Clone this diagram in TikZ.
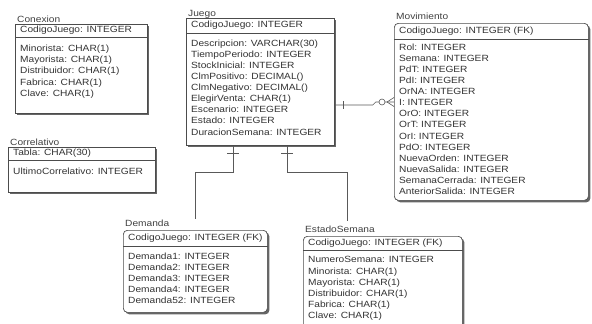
\documentclass[tikz,border=0pt]{standalone}
\usepackage{fontspec}
\setmainfont{Liberation Sans}[FakeStretch=1.13]
\usetikzlibrary{shadows}

\begin{document}
\begin{tikzpicture}[x=1pt, y=1pt,
    tabla/.style={draw=black!70, line width=0.7pt, fill=white, anchor=north west, inner sep=0pt,
      drop shadow={shadow xshift=2pt, shadow yshift=-2pt, fill=black!60, opacity=1}},
    debil/.style={tabla, rounded corners=4pt},
    titulo/.style={anchor=base west, inner sep=0pt, font=\fontsize{9}{11}\selectfont, text=black!75},
    clave/.style={anchor=west, inner sep=0pt, font=\fontsize{9}{11}\selectfont, text=black!80},
    campos/.style={anchor=north west, inner sep=0pt, align=left, font=\fontsize{9}{11.1}\selectfont, text=black!80},
    rel/.style={draw=black!65, line width=0.6pt}]
      % frame
      \useasboundingbox (0,0) rectangle (592,-324);
      \clip (0,0) rectangle (592,-324);
      % tables
      \node[tabla, minimum width=132pt, minimum height=89pt] (conexion) at (15,-24) {};
      \node[tabla, minimum width=147pt, minimum height=45pt] (correlativo) at (8,-147) {};
      \node[tabla, minimum width=148pt, minimum height=127pt] (juego) at (186,-18) {};
      \node[debil, minimum width=194pt, minimum height=177pt] (movimiento) at (394,-23) {};
      \node[debil, minimum width=144pt, minimum height=82pt] (demanda) at (123,-230) {};
      \node[debil, minimum width=159pt, minimum height=100pt] (estado) at (303,-236) {};
      % titles
      \foreach \t/\n/\d in {conexion/Conexion/1.5, correlativo/Correlativo/1.5, juego/Juego/1.5,
                         movimiento/Movimiento/3.5, demanda/Demanda/3.5, estado/EstadoSemana/3.5}
        \node[titulo] (\t-t) at ([shift={(2,\d)}]\t.north west) {\n};
      % key lines
      \foreach \t/\h in {conexion/13, correlativo/13, juego/15, movimiento/16, demanda/16, estado/14}
        \draw[draw=black!70, line width=0.6pt] ([yshift=-\h pt]\t.north west) -- ([yshift=-\h pt]\t.north east);
      % keys
      \node[clave] (conexion-pk) at ([shift={(5,-6.5)}]conexion.north west) {CodigoJuego: INTEGER};
      \node[clave] (correlativo-pk) at ([shift={(5,-6.5)}]correlativo.north west) {Tabla: CHAR(30)};
      \node[clave] (juego-pk) at ([shift={(5,-7.5)}]juego.north west) {CodigoJuego: INTEGER};
      \node[clave] (movimiento-pk) at ([shift={(5,-8)}]movimiento.north west) {CodigoJuego: INTEGER (FK)};
      \node[clave] (demanda-pk) at ([shift={(5,-8)}]demanda.north west) {CodigoJuego: INTEGER (FK)};
      \node[clave] (estado-pk) at ([shift={(5,-7)}]estado.north west) {CodigoJuego: INTEGER (FK)};
      % attributes
      \node[campos] (conexion-at) at ([shift={(5,-21)}]conexion.north west)
        {Minorista: CHAR(1)\\Mayorista: CHAR(1)\\Distribuidor: CHAR(1)\\Fabrica: CHAR(1)\\Clave: CHAR(1)};
      \node[campos] (correlativo-at) at ([shift={(5,-21)}]correlativo.north west) {UltimoCorrelativo: INTEGER};
      \node[campos] (juego-at) at ([shift={(5,-21.5)}]juego.north west)
        {Descripcion: VARCHAR(30)\\TiempoPeriodo: INTEGER\\StockInicial: INTEGER\\ClmPositivo: DECIMAL()\\
         ClmNegativo: DECIMAL()\\ElegirVenta: CHAR(1)\\Escenario: INTEGER\\Estado: INTEGER\\DuracionSemana: INTEGER};
      \node[campos] (movimiento-at) at ([shift={(5,-20.5)}]movimiento.north west)
        {Rol: INTEGER\\Semana: INTEGER\\PdT: INTEGER\\PdI: INTEGER\\OrNA: INTEGER\\I: INTEGER\\OrO: INTEGER\\
         OrT: INTEGER\\OrI: INTEGER\\PdO: INTEGER\\NuevaOrden: INTEGER\\NuevaSalida: INTEGER\\
         SemanaCerrada: INTEGER\\AnteriorSalida: INTEGER};
      \node[campos] (demanda-at) at ([shift={(5,-22.5)}]demanda.north west)
        {Demanda1: INTEGER\\Demanda2: INTEGER\\Demanda3: INTEGER\\Demanda4: INTEGER\\Demanda52: INTEGER};
      \node[campos] (estado-at) at ([shift={(5,-20.5)}]estado.north west)
        {NumeroSemana: INTEGER\\Minorista: CHAR(1)\\Mayorista: CHAR(1)\\Distribuidor: CHAR(1)\\
         Fabrica: CHAR(1)\\Clave: CHAR(1)};
      % Juego - Movimiento
      \draw[rel] ([yshift=-87pt]juego.north east) -- ++(38,0) -- ++(3,3) -- ([yshift=-79pt]movimiento.north west);
      \draw[rel] ([shift={(9,-83)}]juego.north east) -- ++(0,-8);
      \draw[rel, fill=white] ([shift={(-12,-79)}]movimiento.north west) circle[radius=3pt];
      \draw[rel] ([shift={(-7,-79)}]movimiento.north west) -- ++(7,4.5)
                 ([shift={(-7,-79)}]movimiento.north west) -- ++(7,-4.5);
      % Juego - Demanda, Juego - EstadoSemana
      \coordinate (finDemanda) at ([shift={(72,11)}]demanda.north west);
      \coordinate (finEstado) at ([shift={(44,15)}]estado.north west);
      \draw[rel] ([xshift=47pt]juego.south west) -- ++(0,-27) -| (finDemanda);
      \draw[rel] ([xshift=101pt]juego.south west) -- ++(0,-27) -| (finEstado);
      \draw[rel] ([shift={(41,-8)}]juego.south west) -- ++(12,0);
      \draw[rel] ([shift={(95,-8)}]juego.south west) -- ++(12,0);
    \end{tikzpicture}
\end{document}
